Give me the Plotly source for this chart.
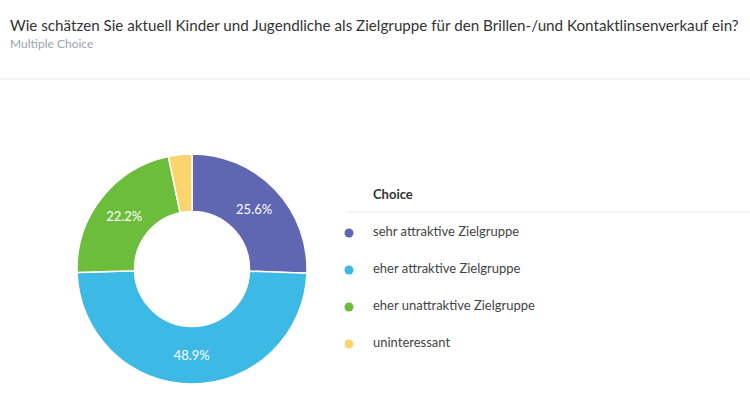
import plotly.graph_objects as go

title = "Wie schätzen Sie aktuell Kinder und Jugendliche als Zielgruppe für den Brillen-/und Kontaktlinsenverkauf ein?"
subtitle = "Multiple Choice"
categories = ["sehr attraktive Zielgruppe", "eher attraktive Zielgruppe",
              "eher unattraktive Zielgruppe", "uninteressant"]
values = [25.6, 48.9, 22.2, 3.3]
colors = ["#5F66B2", "#3DB9E5", "#6DBD3D", "#FAD56E"]
legend_header = "Choice"

W, H = 750, 395
cx, cy, r = 192, 269, 115

fig = go.Figure()
fig.add_trace(go.Pie(
    labels=categories, values=values, sort=False, direction="clockwise",
    rotation=0, hole=0.5,
    marker=dict(colors=colors, line=dict(color="white", width=1.5)),
    texttemplate=["%{percent:.1%}", "%{percent:.1%}", "%{percent:.1%}", ""],
    textposition="inside", insidetextorientation="horizontal",
    textfont=dict(family="Lato", size=13, color="white"),
    domain=dict(x=[(cx - r) / W, (cx + r) / W], y=[(H - cy - r) / H, (H - cy + r) / H]),
    showlegend=False, hoverinfo="label+percent",
))

idx = list(range(len(categories)))
fig.add_trace(go.Scatter(
    x=[349] * len(categories), y=idx, mode="markers",
    marker=dict(color=colors, size=9), xaxis="x2", yaxis="y2",
    showlegend=False, hoverinfo="skip",
))
fig.add_trace(go.Scatter(
    x=[373] * len(categories), y=idx, mode="text", text=categories,
    textposition="middle right",
    textfont=dict(family="Lato", size=13, color="#444444"),
    xaxis="x2", yaxis="y2", showlegend=False, hoverinfo="skip",
))

y0pix, step = 233, 37
fig.update_layout(
    width=W, height=H, margin=dict(l=0, r=0, t=0, b=0),
    paper_bgcolor="white", plot_bgcolor="rgba(0,0,0,0)",
    font=dict(family="Lato", color="#333333"),
    xaxis2=dict(domain=[0, 1], range=[0, W], visible=False, fixedrange=True),
    yaxis2=dict(domain=[0, 1], range=[(H - y0pix) / step, -y0pix / step],
                visible=False, fixedrange=True, anchor="x2"),
    annotations=[
        dict(text=title, x=8 / W, y=1 - 25 / H, xref="paper", yref="paper",
             xanchor="left", yanchor="middle", showarrow=False,
             font=dict(family="Lato", size=15.2, color="#333333")),
        dict(text=subtitle, x=8 / W, y=1 - 43 / H, xref="paper", yref="paper",
             xanchor="left", yanchor="middle", showarrow=False,
             font=dict(family="Lato", size=12, color="#9aa3ad")),
        dict(text="<b>" + legend_header + "</b>", x=371 / W, y=1 - 194 / H,
             xref="paper", yref="paper", xanchor="left", yanchor="middle",
             showarrow=False, font=dict(family="Lato", size=13, color="#333333")),
    ],
    shapes=[
        dict(type="line", xref="paper", yref="paper", x0=0, x1=1,
             y0=1 - 79 / H, y1=1 - 79 / H, line=dict(color="#e6e6e6", width=1)),
        dict(type="line", xref="paper", yref="paper", x0=345 / W, x1=1,
             y0=1 - 212 / H, y1=1 - 212 / H, line=dict(color="#ebebeb", width=1)),
    ],
)

fig.write_html("out.html", config={"displayModeBar": False},
               post_script="document.body.style.margin='0';document.body.style.overflow='hidden';")
